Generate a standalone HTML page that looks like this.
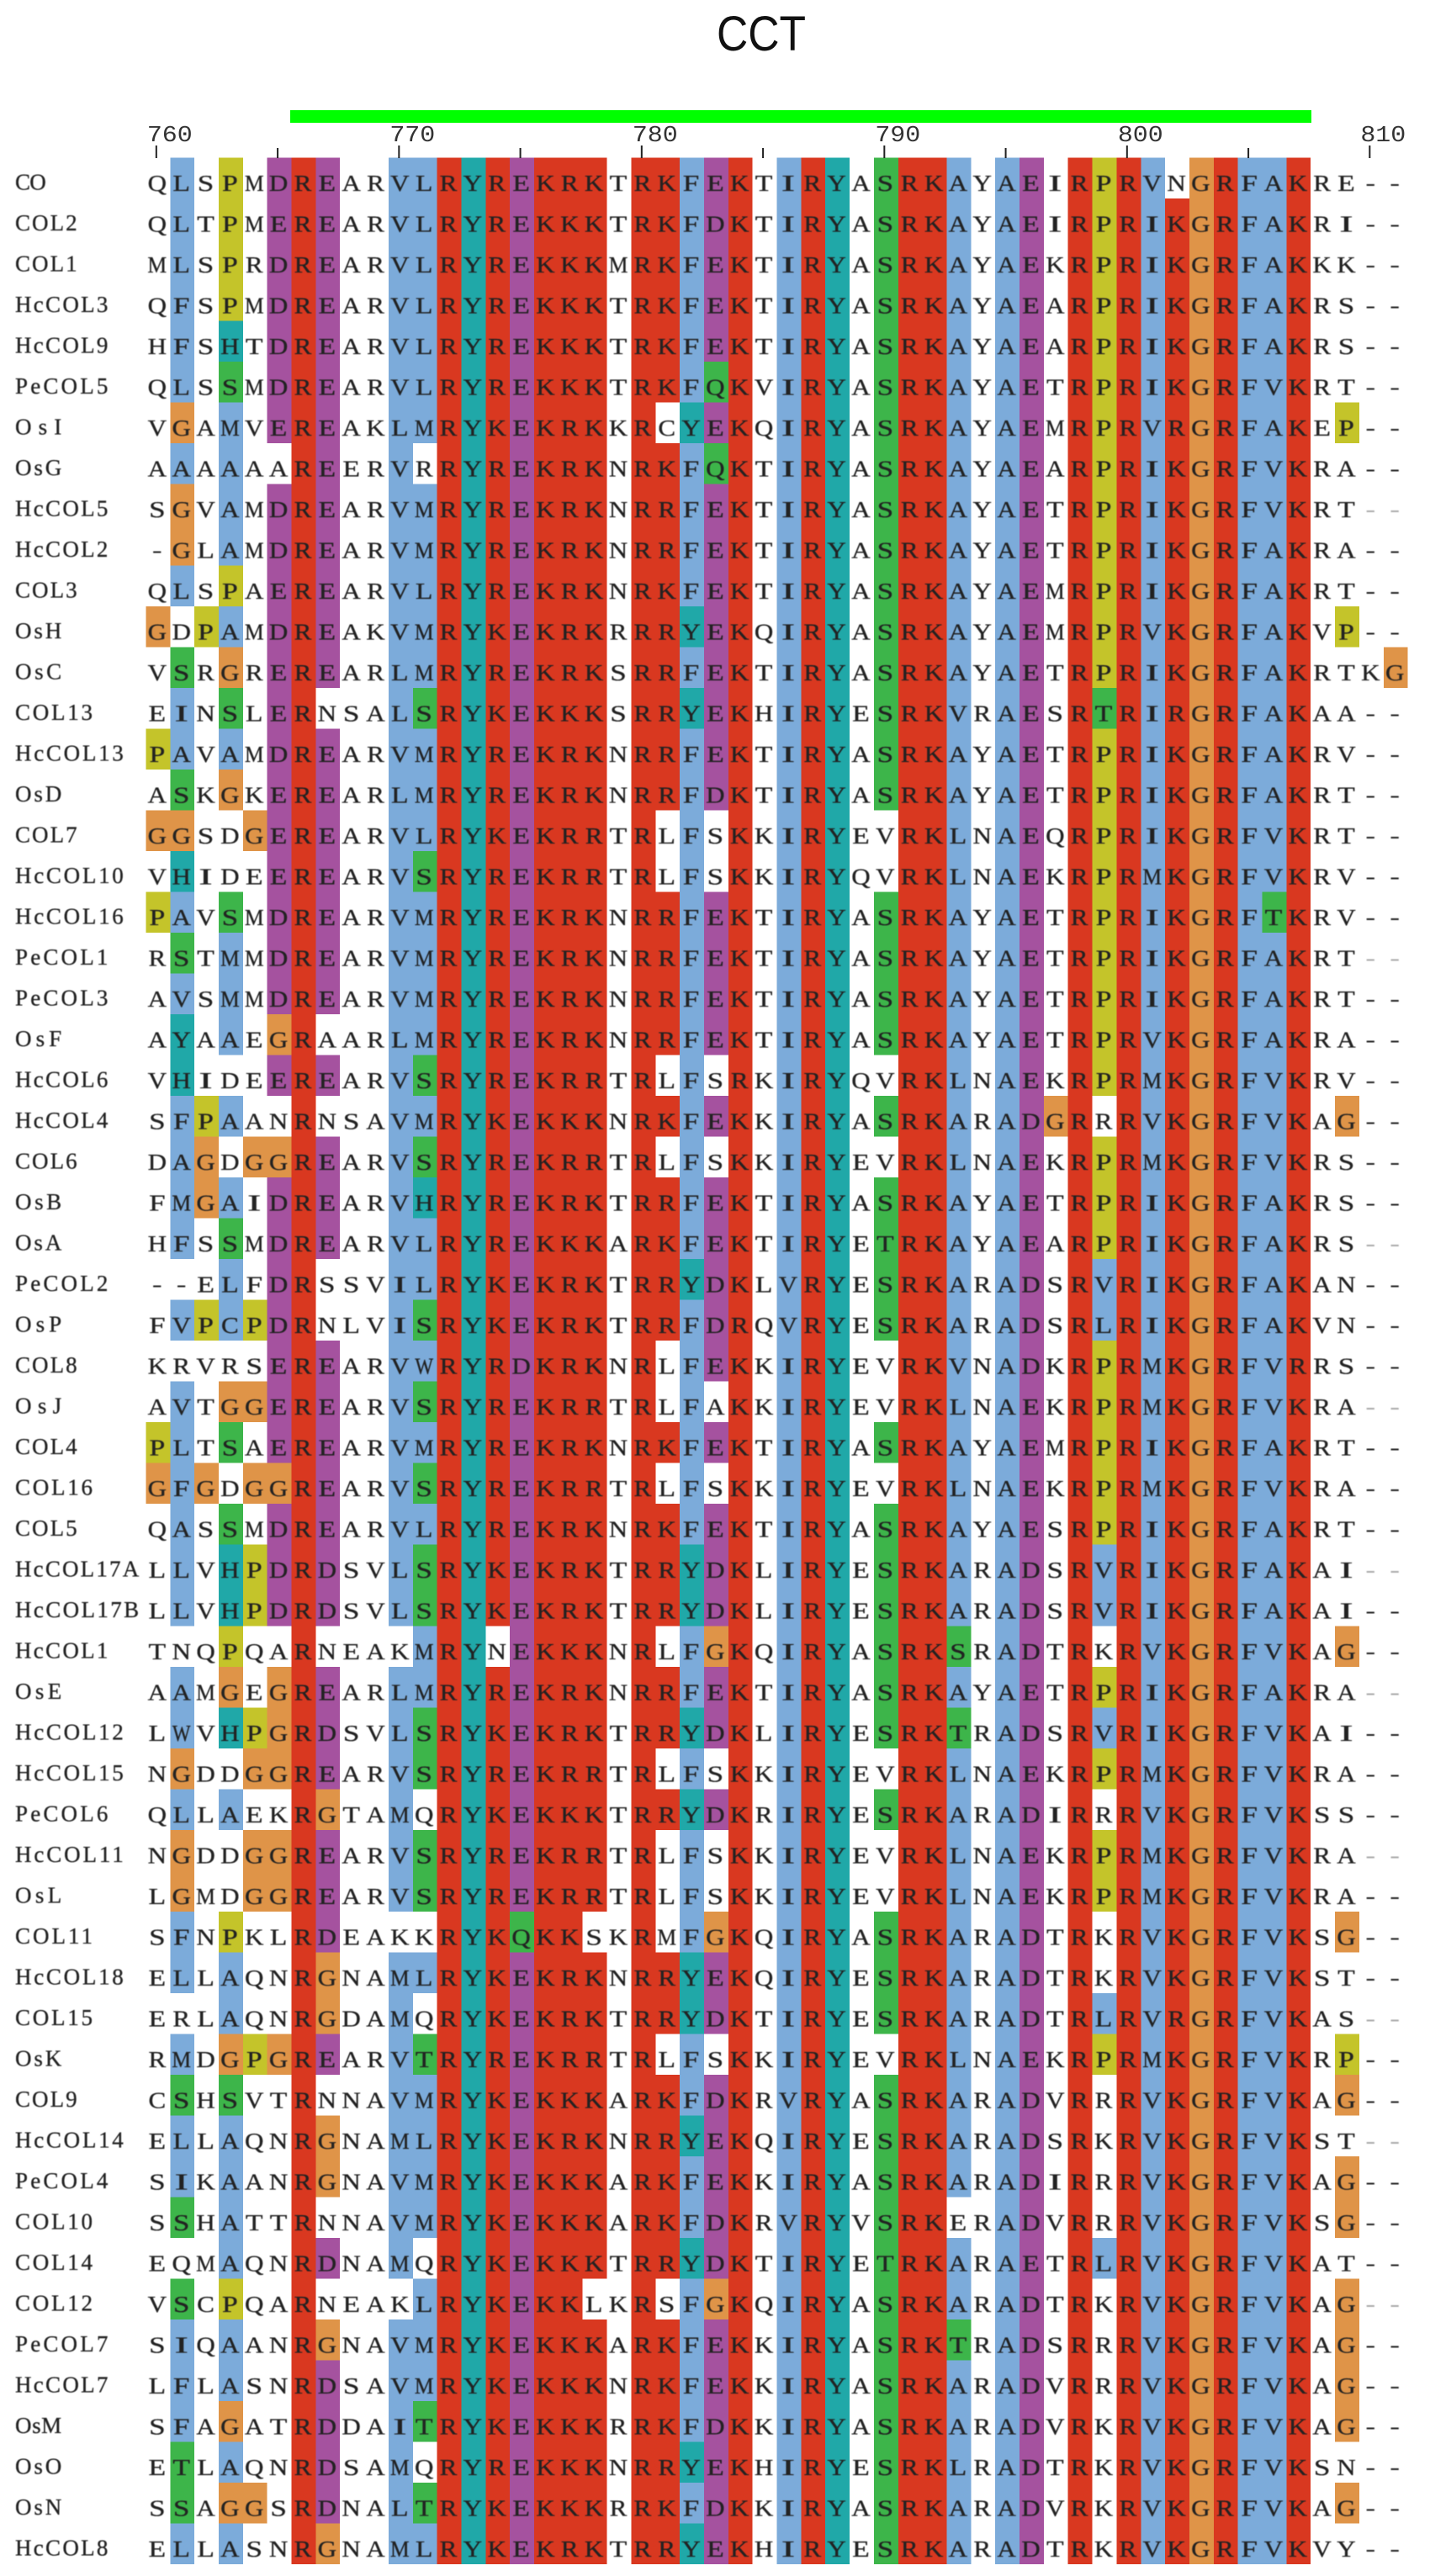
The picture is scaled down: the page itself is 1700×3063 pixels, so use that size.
<!DOCTYPE html>
<html lang="en">
<head>
<meta charset="utf-8">
<title>CCT alignment</title>
<style>
html,body{margin:0;padding:0;background:#fff;}
svg{display:block;}
text{font-family:"Liberation Serif",serif;}
.mono{font-family:"Liberation Mono",monospace;}
#title{font-family:"Liberation Sans",sans-serif;}
#letters,#labels{filter:blur(0.5px);}
</style>
</head>
<body>
<svg id="chart" xmlns="http://www.w3.org/2000/svg" width="1700" height="3063" viewBox="0 0 1700 3063">
  <rect x="0" y="0" width="1700" height="3063" fill="#ffffff"/>
  <text id="title" x="852" y="60" font-size="58" fill="#111" textLength="106" lengthAdjust="spacingAndGlyphs">CCT</text>
  <rect x="345" y="131" width="1214" height="15" fill="#00ff00"/>
  <g id="cells" shape-rendering="crispEdges"></g>
  <g id="ticks"></g>
  <g id="labels"></g>
  <g id="letters"></g>
</svg>
<script>
const seqNames = ["CO","COL2","COL1","HcCOL3","HcCOL9","PeCOL5","OsI","OsG","HcCOL5","HcCOL2","COL3","OsH","OsC","COL13","HcCOL13","OsD","COL7","HcCOL10","HcCOL16","PeCOL1","PeCOL3","OsF","HcCOL6","HcCOL4","COL6","OsB","OsA","PeCOL2","OsP","COL8","OsJ","COL4","COL16","COL5","HcCOL17A","HcCOL17B","HcCOL1","OsE","HcCOL12","HcCOL15","PeCOL6","HcCOL11","OsL","COL11","HcCOL18","COL15","OsK","COL9","HcCOL14","PeCOL4","COL10","COL14","COL12","PeCOL7","HcCOL7","OsM","OsO","OsN","HcCOL8"];
const sequences = [
"QLSPMDREARVLRYREKRKTRKFEKTIRYASRKAYAEIRPRVNGRFAKRE--",
"QLTPMEREARVLRYREKKKTRKFDKTIRYASRKAYAEIRPRIKGRFAKRI--",
"MLSPRDREARVLRYREKKKMRKFEKTIRYASRKAYAEKRPRIKGRFAKKK--",
"QFSPMDREARVLRYREKKKTRKFEKTIRYASRKAYAEARPRIKGRFAKRS--",
"HFSHTDREARVLRYREKKKTRKFEKTIRYASRKAYAEARPRIKGRFAKRS--",
"QLSSMDREARVLRYREKKKTRKFQKVIRYASRKAYAETRPRIKGRFVKRT--",
"VGAMVEREAKLMRYKEKRKKRCYEKQIRYASRKAYAEMRPRVRGRFAKEP--",
"AAAAAAREERVRRYREKRKNRKFQKTIRYASRKAYAEARPRIKGRFVKRA--",
"SGVAMDREARVMRYREKRKNRRFEKTIRYASRKAYAETRPRIKGRFVKRT--",
"-GLAMDREARVMRYREKRKNRRFEKTIRYASRKAYAETRPRIKGRFAKRA--",
"QLSPAEREARVLRYREKRKNRKFEKTIRYASRKAYAEMRPRIKGRFAKRT--",
"GDPAMDREAKVMRYKEKRKRRRYEKQIRYASRKAYAEMRPRVKGRFAKVP--",
"VSRGREREARLMRYREKRKSRRFEKTIRYASRKAYAETRPRIKGRFAKRTKG",
"EINSLERNSALSRYKEKKKSRRYEKHIRYESRKVRAESRTRIRGRFAKAA--",
"PAVAMDREARVMRYREKRKNRRFEKTIRYASRKAYAETRPRIKGRFAKRV--",
"ASKGKEREARLMRYREKRKNRRFDKTIRYASRKAYAETRPRIKGRFAKRT--",
"GGSDGEREARVLRYKEKRRTRLFSKKIRYEVRKLNAEQRPRIKGRFVKRT--",
"VHIDEEREARVSRYREKRRTRLFSKKIRYQVRKLNAEKRPRMKGRFVKRV--",
"PAVSMDREARVMRYREKRKNRRFEKTIRYASRKAYAETRPRIKGRFTKRV--",
"RSTMMDREARVMRYREKRKNRRFEKTIRYASRKAYAETRPRIKGRFAKRT--",
"AVSMMDREARVMRYREKRKNRRFEKTIRYASRKAYAETRPRIKGRFAKRT--",
"AYAAEGRAARLMRYREKRKNRRFEKTIRYASRKAYAETRPRVKGRFAKRA--",
"VHIDEEREARVSRYREKRRTRLFSRKIRYQVRKLNAEKRPRMKGRFVKRV--",
"SFPAANRNSAVMRYKEKKKNRKFEKKIRYASRKARADGRRRVKGRFVKAG--",
"DAGDGGREARVSRYREKRRTRLFSKKIRYEVRKLNAEKRPRMKGRFVKRS--",
"FMGAIDREARVHRYREKRKTRRFEKTIRYASRKAYAETRPRIKGRFAKRS--",
"HFSSMDREARVLRYREKKKARKFEKTIRYETRKAYAEARPRIKGRFAKRS--",
"--ELFDRSSVILRYKEKRKTRRYDKLVRYESRKARADSRVRIKGRFAKAN--",
"FVPCPDRNLVISRYKEKRKTRRFDRQVRYESRKARADSRLRIKGRFAKVN--",
"KRVRSEREARVWRYRDKRKNRLFEKKIRYEVRKVNADKRPRMKGRFVRRS--",
"AVTGGEREARVSRYREKRRTRLFAKKIRYEVRKLNAEKRPRMKGRFVKRA--",
"PLTSAEREARVMRYREKRKNRKFEKTIRYASRKAYAEMRPRIKGRFAKRT--",
"GFGDGGREARVSRYREKRRTRLFSKKIRYEVRKLNAEKRPRMKGRFVKRA--",
"QASSMDREARVLRYREKRKNRKFEKTIRYASRKAYAESRPRIKGRFAKRT--",
"LLVHPDRDSVLSRYKEKRKTRRYDKLIRYESRKARADSRVRIKGRFAKAI--",
"LLVHPDRDSVLSRYKEKRKTRRYDKLIRYESRKARADSRVRIKGRFAKAI--",
"TNQPQARNEAKMRYNEKKKNRLFGKQIRYASRKSRADTRKRVKGRFVKAG--",
"AAMGEGREARLMRYREKRKNRRFEKTIRYASRKAYAETRPRIKGRFAKRA--",
"LWVHPGRDSVLSRYKEKRKTRRYDKLIRYESRKTRADSRVRIKGRFVKAI--",
"NGDDGGREARVSRYREKRRTRLFSKKIRYEVRKLNAEKRPRMKGRFVKRA--",
"QLLAEKRGTAMQRYKEKKKTRRYDKRIRYESRKARADIRRRVKGRFVKSS--",
"NGDDGGREARVSRYREKRRTRLFSKKIRYEVRKLNAEKRPRMKGRFVKRA--",
"LGMDGGREARVSRYREKRRTRLFSKKIRYEVRKLNAEKRPRMKGRFVKRA--",
"SFNPKLRDEAKKRYKQKKSKRMFGKQIRYASRKARADTRKRVKGRFVKSG--",
"ELLAQNRGNAMLRYKEKRKNRRYEKQIRYESRKARADTRKRVKGRFVKST--",
"ERLAQNRGDAMQRYKEKRKTRRYDKTIRYESRKARADTRLRVRGRFVKAS--",
"RMDGPGREARVTRYREKRRTRLFSKKIRYEVRKLNAEKRPRMKGRFVKRP--",
"CSHSVTRNNAVMRYKEKKKARKFDKRVRYASRKARADVRRRVKGRFVKAG--",
"ELLAQNRGNAMLRYKEKRKNRRYEKQIRYESRKARADSRKRVKGRFVKST--",
"SIKAANRGNAVMRYKEKKKARKFEKKIRYASRKARADIRRRVKGRFVKAG--",
"SSHATTRNNAVMRYKEKKKARKFDKRVRYVSRKERADVRRRVKGRFVKSG--",
"EQMAQNRDNAMQRYKEKKKTRRYDKTIRYETRKARAETRLRVKGRFVKAT--",
"VSCPQARNEAKLRYKEKKLKRSFGKQIRYASRKARADTRKRVKGRFVKAG--",
"SIQAANRGNAVMRYKEKKKARKFEKKIRYASRKTRADSRRRVKGRFVKAG--",
"LFLASNRDSAVMRYKEKKKNRKFEKKIRYASRKARADVRRRVKGRFVKAG--",
"SFAGATRDDAITRYKEKKKRRKFDKKIRYASRKARADVRKRVKGRFVKAG--",
"ETLAQNRDSAMQRYREKKKNRRYEKHIRYESRKLRADTRKRVKGRFVKSN--",
"SSAGGSRDNALTRYKEKKKRRKFDKKIRYASRKARADVRKRVKGRFVKAG--",
"ELLASNRGNAMLRYKEKRKTRRYEKHIRYESRKARADTRKRVKGRFVKVY--"
];
/* residues that receive their class colour in each alignment column */
const columnColoured = ["GP","LFAVMWISTHYG","PG","PAMCLSTHG","GP","DEG","R","EDG","","","VLIM","LMWSTH","R","Y","RK","EDQ","K","KR","KR","","R","KR","FY","EDQG","KR","","IV","R","Y","","ST","R","K","ALVST","","A","ED","G","R","PLVT","R","VIM","KR","G","R","F","AVT","KR","","GP","","G"];
const tickValues = [760,765,770,775,780,785,790,795,800,805,810];
const tickLabels = ["760","770","780","790","800","810"];
const lightDashRows = ["HcCOL5","OsA","PeCOL1","OsJ","HcCOL17A","OsE","HcCOL11","COL15","HcCOL14","COL12"];

const residueColour = {
  A:"#7cabda",I:"#7cabda",L:"#7cabda",M:"#7cabda",F:"#7cabda",W:"#7cabda",V:"#7cabda",C:"#7cabda",
  K:"#d93820",R:"#d93820",
  E:"#a5529f",D:"#a5529f",
  N:"#3db54a",Q:"#3db54a",S:"#3db54a",T:"#3db54a",
  G:"#df9448",
  P:"#c4c42a",
  H:"#20a8a8",Y:"#20a8a8"
};
const glyphWidthScale = {I:1.8,M:0.95,W:0.85,S:1.3,F:1.3,P:1.25,E:1.25,L:1.25,T:1.25};
const SVGNS = "http://www.w3.org/2000/svg";
const firstPosition = tickValues[0];
const xScale = c => 173.4 + c * 28.85;
const yScale = r => 187.7 + r * 48.5;
const colWidth = xScale(1) - xScale(0);
const rowHeight = yScale(1) - yScale(0);
const namePitch = 18.4;
const cellsG = document.getElementById("cells");
const ticksG = document.getElementById("ticks");
const labelsG = document.getElementById("labels");
const lettersG = document.getElementById("letters");

seqNames.forEach((name, r) => {
  const label = document.createElementNS(SVGNS, "text");
  
  
  label.setAttribute("x", 18);
  label.setAttribute("y", yScale(r) + 38);
  label.setAttribute("font-size", "27");
  label.setAttribute("fill", "#222");
  label.setAttribute("stroke", "#222");
  label.setAttribute("stroke-width", "0.3");
  label.setAttribute("textLength", name.length * namePitch);
  label.textContent = name;
  labelsG.appendChild(label);

  const seq = sequences[r];
  for (let c = 0; c < seq.length; c++) {
    const ch = seq[c];
    if (columnColoured[c].includes(ch)) {
      const cell = document.createElementNS(SVGNS, "rect");
      
      
      cell.setAttribute("x", xScale(c));
      cell.setAttribute("y", yScale(r));
      cell.setAttribute("width", colWidth);
      cell.setAttribute("height", rowHeight);
      cell.setAttribute("fill", residueColour[ch]);
      cellsG.appendChild(cell);
    }
    const letter = document.createElementNS(SVGNS, "text");
    
    
    const isDash = ch === "-";
    const sx = isDash ? 1.3 : (glyphWidthScale[ch] || 1.15);
    letter.setAttribute("transform", `translate(${xScale(c) + colWidth / 2 - 1},${yScale(r) + 39.3}) scale(${sx},1)`);
    letter.setAttribute("text-anchor", "middle");
    letter.setAttribute("font-size", isDash ? "26" : "27");
    if (isDash) {
      letter.setAttribute("class", "mono");
      letter.setAttribute("fill", lightDashRows.includes(name) ? "#aaa" : "#222");
    } else {
      letter.setAttribute("fill", "#222");
      letter.setAttribute("stroke", "#222");
      letter.setAttribute("stroke-width", "0.3");
    }
    letter.textContent = ch;
    lettersG.appendChild(letter);
  }
});

tickValues.forEach(v => {
  const major = v % 10 === 0;
  const tx = xScale(v - firstPosition) + colWidth / 2 - 2;
  const tick = document.createElementNS(SVGNS, "rect");
  
  
  tick.setAttribute("x", tx - 1);
  tick.setAttribute("y", major ? 173 : 176);
  tick.setAttribute("width", 2);
  tick.setAttribute("height", major ? 15 : 12);
  tick.setAttribute("fill", "#222");
  ticksG.appendChild(tick);
  const idx = tickLabels.indexOf(String(v));
  if (idx >= 0) {
    const lab = document.createElementNS(SVGNS, "text");
    
    
    lab.setAttribute("class", "mono");
    lab.setAttribute("transform", `translate(${tx - 11},168) scale(1.11,1)`);
    lab.setAttribute("font-size", "27");
    lab.setAttribute("fill", "#333");
    lab.textContent = tickLabels[idx];
    ticksG.appendChild(lab);
  }
});
</script>
</body>
</html>
